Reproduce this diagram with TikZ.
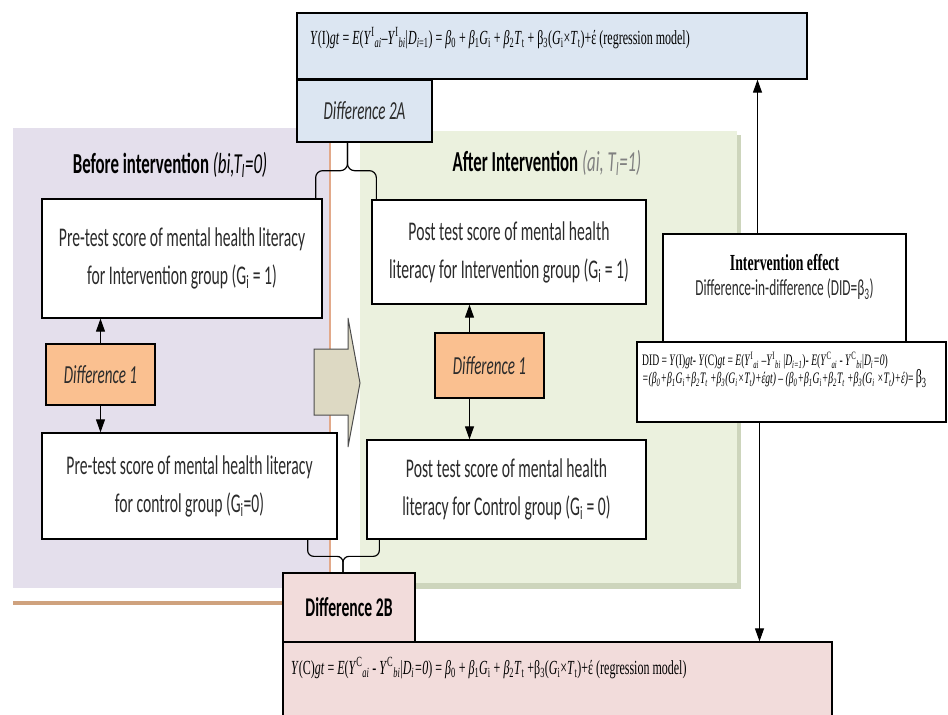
\documentclass[tikz,border=0pt]{standalone}
\usepackage{fontspec}
\setmainfont{Carlito}[FakeStretch=0.58]
\newfontfamily\tnr{Liberation Serif}[FakeStretch=0.6]
\usetikzlibrary{arrows.meta}
\definecolor{lilac}{HTML}{E4DFEC}
\definecolor{sage}{HTML}{EBF1DE}
\definecolor{sageshade}{HTML}{CDD5BC}
\definecolor{skyfill}{HTML}{DCE6F2}
\definecolor{rosefill}{HTML}{F2DCDB}
\definecolor{peach}{HTML}{FAC090}
\definecolor{khaki}{HTML}{DDD9C3}
\definecolor{tanline}{HTML}{CFA27E}
\definecolor{rimline}{HTML}{E2A98A}
\definecolor{inkgray}{HTML}{2B2B2B}
\newcommand{\sub}[1]{\textsubscript{#1}}
\newcommand{\sups}[1]{\textsuperscript{#1}}
\begin{document}
\begin{tikzpicture}[x=1pt,y=-1pt,
  bx/.style={draw,line width=1.3pt,fill=white,inner sep=0pt,align=center,text=inkgray,font=\fontsize{27}{38}\selectfont},
  dif/.style={bx,fill=peach,font=\fontsize{26}{30}\selectfont\itshape},
  hd/.style={inner sep=0pt,font=\fontsize{29}{32}\selectfont\bfseries},
  fml/.style={anchor=west,inner sep=0pt,font=\tnr\fontsize{20}{22}\selectfont},
  arr/.style={line width=1pt,-{Triangle[width=9pt,length=13pt]}},
  brc/.style={line width=1.2pt,rounded corners=7pt}]
\useasboundingbox (0,0) rectangle (948,715);
\fill[white] (0,0) rectangle (948,715);

\fill[lilac] (13,128) rectangle (330,588);
\draw[rimline,line width=2pt] (330,128) -- (330,592);
\draw[tanline,line width=4pt] (13,603) -- (283,603);
\fill[sageshade] (364,135) rectangle (741,589);
\fill[sage] (360,131) rectangle (737,583);

\node[hd] (before) at (170,165) {Before intervention \mdseries\itshape(bi,T\sub{I}=0)};
\node[hd] (after) at (547,163) {After Intervention \mdseries\itshape\color{gray}(ai, T\sub{I}=1)};

\node[bx,fill=skyfill,minimum width=510pt,minimum height=66pt] (itop) at (552,46) {};
\node[fml] (ftop) at (310,38) {\textit{Y}(I)\textit{gt} = \textit{E}(\textit{Y}\sups{I}\sub{\textit{ai}}–\textit{Y}\sups{I}\sub{\textit{bi}}|\textit{D}\sub{\textit{i}=1}) = \textit{β}\sub{0} + \textit{β}\sub{1}\textit{G}\sub{i} + \textit{β}\sub{2}\textit{T}\sub{t} + β\sub{3}(\textit{G}\sub{i}×\textit{T}\sub{t})+έ (regression model)};
\node[bx,fill=skyfill,minimum width=135pt,minimum height=62pt,font=\fontsize{26}{30}\selectfont\itshape] (d2a) at (364.5,111) {Difference 2A};

\node[bx,minimum width=280pt,minimum height=119pt] (prei) at (182,258.5) {Pre-test score of mental health literacy\\for Intervention group (G\sub{i} = 1)};
\node[bx,minimum width=295pt,minimum height=106pt] (prec) at (189.5,486) {Pre-test score of mental health literacy\\for control group (G\sub{i}=0)};
\node[bx,minimum width=274pt,minimum height=104pt] (posti) at (509,252) {Post test score of mental health\\literacy for Intervention group (G\sub{i} = 1)};
\node[bx,minimum width=279pt,minimum height=99pt] (postc) at (506.5,489.5) {Post test score of mental health\\literacy for Control group (G\sub{i} = 0)};
\node[dif,minimum width=109pt,minimum height=61pt] (d1l) at (100.5,374.5) {Difference 1};
\node[dif,minimum width=109pt,minimum height=65pt] (d1r) at (489.5,365.5) {Difference 1};

\draw[arr] (d1l.north) -- (d1l.north |- prei.south);
\draw[arr] (d1l.south) -- (d1l.south |- prec.north);
\coordinate (ar) at ([xshift=-20pt]d1r.north);
\coordinate (br) at ([xshift=-20pt]d1r.south);
\draw[arr] (ar) -- (ar |- posti.south);
\draw[arr] (br) -- (br |- postc.north);

\draw[fill=khaki,draw=black!70,line width=1pt] (314,349) -- (348,349) -- (348,318) -- (360,383) -- (348,447) -- (348,415) -- (314,415) -- cycle;

\coordinate (ta) at ([xshift=-17pt]d2a.south);
\coordinate (tab) at ([yshift=-28pt]ta);
\draw[brc] ([xshift=-7pt]prei.north east) |- (tab) -- (ta);
\draw[brc] ([xshift=5pt]posti.north west) |- (tab) -- (ta);

\node[bx,fill=rosefill,minimum width=549pt,minimum height=92pt] (cbot) at (557.5,688) {};
\node[fml] (fbot) at (291,668) {\textit{Y}(C)\textit{gt} = \textit{E}(\textit{Y}\sups{C}\sub{\textit{ai}} - \textit{Y}\sups{C}\sub{\textit{bi}}|\textit{D}\sub{\textit{i}}\textit{=0}) = \textit{β}\sub{0} + \textit{β}\sub{1}\textit{G}\sub{i} + \textit{β}\sub{2}\textit{T}\sub{t} +β\sub{3}(\textit{G}\sub{i}×\textit{T}\sub{t})+έ (regression model)};
\node[bx,fill=rosefill,minimum width=132pt,minimum height=69pt,text=black,font=\fontsize{27}{30}\selectfont\bfseries] (d2b) at (349,607.5) {Difference 2B};

\coordinate (tb) at ([xshift=-6pt]d2b.north);
\coordinate (tbb) at ([yshift=16pt]tb);
\draw[brc,rounded corners=6pt] ([xshift=-30pt]prec.south east) |- (tbb) -- (tb);
\draw[brc,rounded corners=6pt] ([xshift=13pt]postc.south west) |- (tbb) -- (tb);

\node[bx,minimum width=243pt,minimum height=108pt] (effect) at (784.5,288) {};
\node[align=center,inner sep=0pt,text=inkgray,font=\fontsize{23}{25}\selectfont] (efftxt) at (784.5,277) {{\tnr\bfseries\color{black}Intervention effect}\\Difference-in-difference (DID=β\sub{3})};
\node[bx,minimum width=309pt,minimum height=80pt] (did) at (791.5,382) {};
\node[fml,align=left,font=\tnr\fontsize{16}{16}\selectfont] (didtxt) at (642,370) {DID = \textit{Y}(I)\textit{gt}- \textit{Y}(C)\textit{gt} = \textit{E}(\textit{Y}\sups{I}\sub{\textit{ai}} –\textit{Y}\sups{I}\sub{\textit{bi}} |\textit{D}\sub{\textit{i=1}})- \textit{E}(\textit{Y}\sups{C}\sub{\textit{ai}} - \textit{Y}\sups{C}\sub{\textit{bi}}|\textit{D}\sub{\textit{i}}\textit{=0})\\
\textit{=(β\sub{0}+β\sub{1}G\sub{i}+β\sub{2}T\sub{t} +β\sub{3}(G\sub{i}×T\sub{t})+έgt) – (β\sub{0}+β\sub{1}G\sub{i}+β\sub{2}T\sub{t} +β\sub{3}(G\sub{i} ×T\sub{t})+έ)}= {\fontsize{20}{16}\selectfont β\sub{3}}};

\coordinate (up) at ([xshift=-27pt]effect.north);
\coordinate (dn) at ([xshift=-32pt]did.south);
\draw[arr] (up) -- (up |- itop.south);
\draw[arr] (dn) -- (dn |- cbot.north);
\end{tikzpicture}
\end{document}
